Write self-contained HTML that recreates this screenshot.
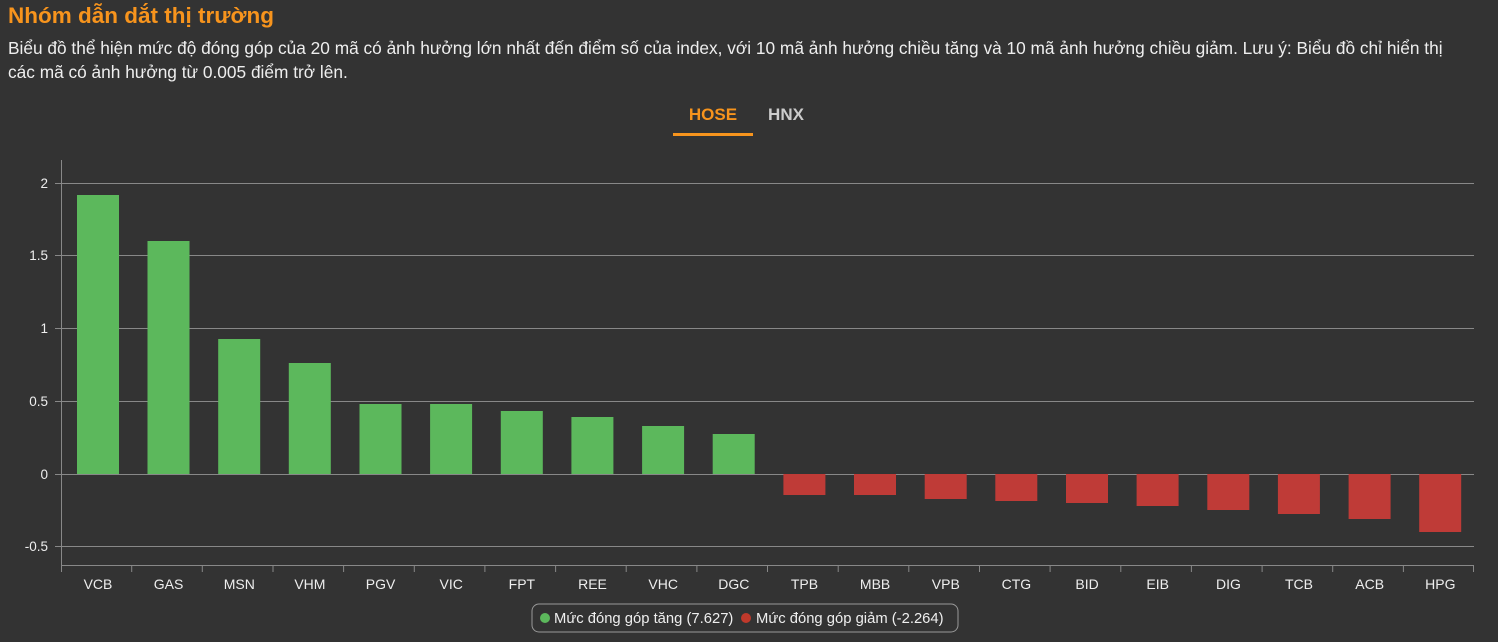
<!DOCTYPE html>
<html><head><meta charset="utf-8"><style>
body{margin:0;background:#333;width:1498px;height:642px;overflow:hidden;font-family:"Liberation Sans",Arial,sans-serif;}
.t{position:absolute;left:8px;top:3px;color:#f7941d;font-size:22.5px;font-weight:bold;}
.d{position:absolute;left:8px;top:36px;width:1458px;color:#eee;font-size:17.3px;line-height:24px;}
</style></head><body>
<div class="t">Nhóm dẫn dắt thị trường</div>
<div class="d">Biểu đồ thể hiện mức độ đóng góp của 20 mã có ảnh hưởng lớn nhất đến điểm số của index, với 10 mã ảnh hưởng chiều tăng và 10 mã ảnh hưởng chiều giảm. Lưu ý: Biểu đồ chỉ hiển thị<br>các mã có ảnh hưởng từ 0.005 điểm trở lên.</div>
<svg width="1498" height="642" style="position:absolute;left:0;top:0" font-family="Liberation Sans,Arial,sans-serif">
<text x="713" y="120" fill="#f7941d" font-size="17" font-weight="bold" text-anchor="middle">HOSE</text>
<rect x="673" y="133" width="80" height="3" fill="#f7941d"/>
<text x="786" y="120" fill="#ccc" font-size="17" font-weight="bold" text-anchor="middle">HNX</text>
<g stroke="#888" stroke-width="1">
<line x1="61" y1="183.5" x2="1474" y2="183.5"/><line x1="61" y1="255.5" x2="1474" y2="255.5"/>
<line x1="61" y1="328.5" x2="1474" y2="328.5"/><line x1="61" y1="401.5" x2="1474" y2="401.5"/>
<line x1="61" y1="474.5" x2="1474" y2="474.5"/><line x1="61" y1="546.5" x2="1474" y2="546.5"/>
<line x1="61.5" y1="160" x2="61.5" y2="566"/><line x1="61" y1="565.5" x2="1474" y2="565.5"/>
<line x1="55" y1="183.5" x2="61" y2="183.5"/><line x1="55" y1="255.5" x2="61" y2="255.5"/><line x1="55" y1="328.5" x2="61" y2="328.5"/><line x1="55" y1="401.5" x2="61" y2="401.5"/><line x1="55" y1="474.5" x2="61" y2="474.5"/><line x1="55" y1="546.5" x2="61" y2="546.5"/>
<line x1="61.5" y1="566" x2="61.5" y2="572"/><line x1="131.7" y1="566" x2="131.7" y2="572"/><line x1="202.3" y1="566" x2="202.3" y2="572"/><line x1="273" y1="566" x2="273" y2="572"/><line x1="343.6" y1="566" x2="343.6" y2="572"/><line x1="414.3" y1="566" x2="414.3" y2="572"/><line x1="484.9" y1="566" x2="484.9" y2="572"/><line x1="555.6" y1="566" x2="555.6" y2="572"/><line x1="626.2" y1="566" x2="626.2" y2="572"/><line x1="696.9" y1="566" x2="696.9" y2="572"/><line x1="767.5" y1="566" x2="767.5" y2="572"/><line x1="838.2" y1="566" x2="838.2" y2="572"/><line x1="908.8" y1="566" x2="908.8" y2="572"/><line x1="979.5" y1="566" x2="979.5" y2="572"/><line x1="1050.1" y1="566" x2="1050.1" y2="572"/><line x1="1120.8" y1="566" x2="1120.8" y2="572"/><line x1="1191.4" y1="566" x2="1191.4" y2="572"/><line x1="1262.1" y1="566" x2="1262.1" y2="572"/><line x1="1332.7" y1="566" x2="1332.7" y2="572"/><line x1="1403.4" y1="566" x2="1403.4" y2="572"/><line x1="1473.5" y1="566" x2="1473.5" y2="572"/>
</g>
<g fill="#eee" font-size="13.5" text-anchor="end">
<text x="48" y="188">2</text><text x="48" y="260">1.5</text><text x="48" y="333">1</text><text x="48" y="406">0.5</text><text x="48" y="479">0</text><text x="48" y="551">-0.5</text>
</g>
<g fill="#5cb85c">
<rect x="77" y="195" width="42" height="279"/>
<rect x="147.5" y="241" width="42" height="233"/>
<rect x="218.2" y="339" width="42" height="135"/>
<rect x="288.8" y="363" width="42" height="111"/>
<rect x="359.5" y="404" width="42" height="70"/>
<rect x="430.1" y="404" width="42" height="70"/>
<rect x="500.8" y="411" width="42" height="63"/>
<rect x="571.4" y="417" width="42" height="57"/>
<rect x="642.1" y="426" width="42" height="48"/>
<rect x="712.7" y="434" width="42" height="40"/>
</g>
<g fill="#bf3b37">
<rect x="783.4" y="474" width="42" height="21"/>
<rect x="854" y="474" width="42" height="21"/>
<rect x="924.7" y="474" width="42" height="25"/>
<rect x="995.3" y="474" width="42" height="27"/>
<rect x="1066" y="474" width="42" height="29"/>
<rect x="1136.6" y="474" width="42" height="32"/>
<rect x="1207.3" y="474" width="42" height="36"/>
<rect x="1277.9" y="474" width="42" height="40"/>
<rect x="1348.6" y="474" width="42" height="45"/>
<rect x="1419.2" y="474" width="42" height="58"/>
</g>
<g fill="#eee" font-size="14" text-anchor="middle">
<text x="98" y="589">VCB</text><text x="168.6" y="589">GAS</text><text x="239.3" y="589">MSN</text><text x="309.9" y="589">VHM</text><text x="380.6" y="589">PGV</text><text x="451.2" y="589">VIC</text><text x="521.9" y="589">FPT</text><text x="592.5" y="589">REE</text><text x="663.2" y="589">VHC</text><text x="733.8" y="589">DGC</text><text x="804.5" y="589">TPB</text><text x="875.1" y="589">MBB</text><text x="945.8" y="589">VPB</text><text x="1016.4" y="589">CTG</text><text x="1087.1" y="589">BID</text><text x="1157.7" y="589">EIB</text><text x="1228.4" y="589">DIG</text><text x="1299" y="589">TCB</text><text x="1369.7" y="589">ACB</text><text x="1440.3" y="589">HPG</text>
</g>
<rect x="532" y="604" width="426" height="28" rx="7" fill="none" stroke="#999"/>
<circle cx="545" cy="618" r="5" fill="#5cb85c"/>
<text x="554" y="623" fill="#eee" font-size="14.8">Mức đóng góp tăng (7.627)</text>
<circle cx="746" cy="618" r="5" fill="#c0392b"/>
<text x="756" y="623" fill="#eee" font-size="14.8">Mức đóng góp giảm (-2.264)</text>
</svg>
</body></html>
